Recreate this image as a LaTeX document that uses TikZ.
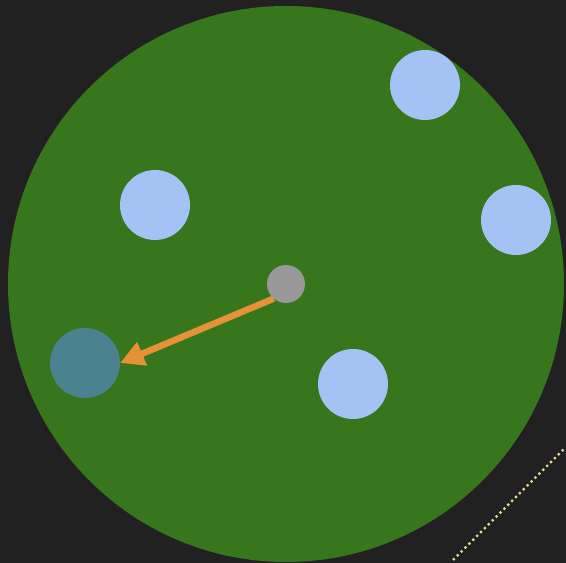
\documentclass[tikz,border=0pt]{standalone}
\usepackage{tikz}
\usetikzlibrary{arrows.meta,positioning}
\definecolor{bgdark}{HTML}{212121}
\definecolor{fieldgreen}{HTML}{38761D}
\definecolor{ballblue}{HTML}{A4C2F4}
\definecolor{ballteal}{HTML}{4A8290}
\definecolor{hubgray}{HTML}{999999}
\definecolor{arroworange}{HTML}{E69138}
\definecolor{dotcream}{HTML}{E8D8A0}
\tikzset{
  ball/.style={circle,fill=ballblue,minimum size=1.4cm,inner sep=0pt,outer sep=0pt},
  hub/.style={circle,fill=hubgray,minimum size=0.76cm,inner sep=0pt,outer sep=0pt},
}
\begin{document}
\begin{tikzpicture}[x=0.02cm,y=-0.02cm]
                \useasboundingbox (0,0) rectangle (566,563);
                \fill[bgdark] (0,0) rectangle (566,563);
                \fill[fieldgreen] (286,284) circle[radius=278];
                \node[ball] (b1) at (425,85) {};
                \node[ball] (b2) at (155,205) {};
                \node[ball] (b3) at (516,220) {};
                \node[ball] (b4) at (353,384) {};
                \node[ball,fill=ballteal] (target) at (85,363) {};
                \node[hub] (center) at (286,284) {};
                \draw[arroworange,line width=0.13cm,-{Triangle[length=0.48cm,width=0.48cm]}] (center.230) -- (target.east);
                \coordinate (d1) at (453,560);
                \coordinate (d2) at (564,449);
                \draw[dotcream,line width=0.045cm,dash pattern=on 0.045cm off 0.065cm] (d1) -- (d2);
            \end{tikzpicture}
\end{document}
